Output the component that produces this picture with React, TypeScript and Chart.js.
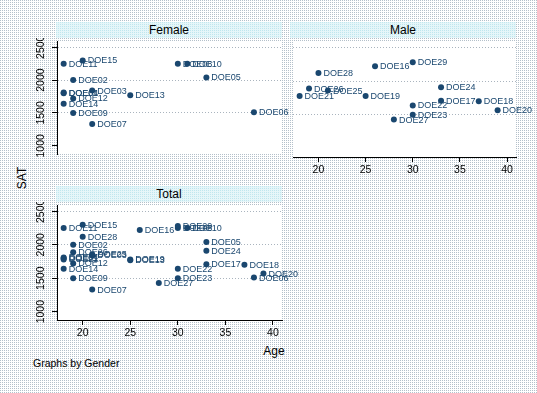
import React, { useEffect, useRef } from 'react';
import { Chart, registerables } from 'chart.js';

Chart.register(...registerables);

// ---- data ----
const femaleIds = ['DOE01', 'DOE02', 'DOE03', 'DOE04', 'DOE05', 'DOE06', 'DOE07', 'DOE08', 'DOE09', 'DOE10', 'DOE11', 'DOE12', 'DOE13', 'DOE14', 'DOE15'];
const femaleAge = [18, 19, 21, 18, 33, 38, 21, 30, 19, 31, 18, 19, 25, 18, 20];
const femaleSat = [1800, 2000, 1840, 1810, 2040, 1510, 1330, 2250, 1500, 2250, 2250, 1720, 1770, 1640, 2300];

const maleIds = ['DOE16', 'DOE17', 'DOE18', 'DOE19', 'DOE20', 'DOE21', 'DOE22', 'DOE23', 'DOE24', 'DOE25', 'DOE26', 'DOE27', 'DOE28', 'DOE29'];
const maleAge = [26, 33, 37, 25, 39, 18, 30, 30, 33, 21, 19, 28, 20, 30];
const maleSat = [2220, 1710, 1700, 1780, 1570, 1780, 1640, 1500, 1910, 1860, 1890, 1430, 2120, 2280];

const totalIds = [...femaleIds, ...maleIds];
const totalAge = [...femaleAge, ...maleAge];
const totalSat = [...femaleSat, ...maleSat];

const ageTicks = [20, 25, 30, 35, 40];
const satTicks = [1000, 1500, 2000, 2500];

const FONT = '"Liberation Sans", Arial, Helvetica, sans-serif';
const NAVY = '#1a476f';

const outerBg: React.CSSProperties = {
  backgroundColor: '#b4c0ca',
  backgroundImage:
    'linear-gradient(to bottom, transparent 1px, #ffffff 1px), linear-gradient(to right, transparent 1px, #ffffff 1px)',
  backgroundSize: '2px 2px',
};

const bandBg: React.CSSProperties = {
  backgroundColor: '#bfe6ee',
  backgroundImage:
    'linear-gradient(to bottom, transparent 1px, #e6f6f9 1px), linear-gradient(to right, transparent 1px, #e6f6f9 1px)',
  backgroundSize: '2px 2px',
};

type PanelProps = {
  ids: string[];
  ages: number[];
  sats: number[];
  showX: boolean;
  showY: boolean;
  left: number;
  top: number;
  width: number;
  height: number;
  padRight: number;
};

function Panel({ ids, ages, sats, showX, showY, left, top, width, height, padRight }: PanelProps) {
  const ref = useRef<HTMLCanvasElement>(null);
  useEffect(() => {
    const canvas = ref.current!;
    const points = ages.map((a, i) => ({ x: a, y: sats[i] }));

    const plotBg = {
      id: 'plotBg',
      beforeDraw(chart: any) {
        const { ctx, chartArea: a } = chart;
        ctx.save();
        ctx.fillStyle = '#ffffff';
        ctx.fillRect(a.left, a.top, a.right - a.left, a.bottom - a.top);
        ctx.restore();
      },
    };

    const yLabels = {
      id: 'yLabels',
      afterDraw(chart: any) {
        if (!showY) return;
        const { ctx } = chart;
        const ys = chart.scales.y;
        ctx.save();
        ctx.font = `10.5px ${FONT}`;
        ctx.fillStyle = '#000';
        ctx.textAlign = 'center';
        ctx.textBaseline = 'middle';
        satTicks.forEach((v) => {
          const y = ys.getPixelForValue(v);
          ctx.save();
          ctx.translate(chart.chartArea.left - 15.5, y);
          ctx.rotate(-Math.PI / 2);
          ctx.fillText(String(v), 0, 0);
          ctx.restore();
        });
        ctx.restore();
      },
    };

    const pointLabels = {
      id: 'pointLabels',
      afterDatasetsDraw(chart: any) {
        const { ctx } = chart;
        const meta = chart.getDatasetMeta(0);
        ctx.save();
        ctx.font = `9px ${FONT}`;
        ctx.fillStyle = NAVY;
        ctx.textAlign = 'left';
        ctx.textBaseline = 'middle';
        meta.data.forEach((el: any, i: number) => {
          ctx.fillText(ids[i], el.x + 5, el.y + 0.5);
        });
        ctx.restore();
      },
    };

    const chart = new Chart(canvas, {
      type: 'scatter',
      data: {
        datasets: [
          {
            data: points,
            pointRadius: 3,
            pointHoverRadius: 3,
            pointBackgroundColor: NAVY,
            pointBorderColor: NAVY,
            pointBorderWidth: 0,
          },
        ],
      },
      options: {
        animation: false,
        responsive: false,
        maintainAspectRatio: false,
        devicePixelRatio: 1,
        events: [],
        layout: { padding: { left: 0, top: 0, bottom: 0, right: padRight } },
        plugins: {
          legend: { display: false },
          tooltip: { enabled: false },
          title: { display: false },
        },
        scales: {
          x: {
            type: 'linear',
            display: showX,
            min: 17.3,
            max: 40.95,
            afterBuildTicks: (s: any) => {
              s.ticks = ageTicks.map((v) => ({ value: v }));
            },
            afterFit: (s: any) => {
              s.height = showX ? 18 : 0;
            },
            ticks: {
              color: '#000',
              font: { family: FONT, size: 10.5 },
              maxRotation: 0,
              minRotation: 0,
              autoSkip: false,
              padding: 2,
            },
            grid: {
              drawOnChartArea: false,
              drawTicks: true,
              tickLength: 5,
              tickColor: '#000',
              color: '#000',
            },
            border: { display: true, color: '#000', width: 1 },
          },
          y: {
            type: 'linear',
            display: true,
            min: 875,
            max: 2595,
            afterBuildTicks: (s: any) => {
              s.ticks = satTicks.map((v) => ({ value: v }));
            },
            afterFit: (s: any) => {
              s.width = showY ? 57 : 0;
            },
            ticks: { display: false },
            grid: {
              drawOnChartArea: true,
              drawTicks: showY,
              tickLength: 5,
              tickColor: '#000',
              lineWidth: 1,
              color: (c: any) => (c.tick && c.tick.value === 1000 ? 'rgba(0,0,0,0)' : '#aab4be'),
            },
            border: { display: showY, color: '#000', width: 1, dash: [1, 2] },
          },
        },
      } as any,
      plugins: [plotBg, yLabels, pointLabels],
    });
    return () => chart.destroy();
  }, []);
  return (
    <canvas
      ref={ref}
      width={width}
      height={height}
      style={{ position: 'absolute', left, top, width, height }}
    />
  );
}

function Band({ text, left, top }: { text: string; left: number; top: number }) {
  return (
    <div
      style={{
        position: 'absolute',
        left,
        top,
        width: 226,
        height: 16,
        lineHeight: '16px',
        textAlign: 'center',
        fontFamily: FONT,
        fontSize: 12,
        color: '#000',
        ...bandBg,
      }}
    >
      {text}
    </div>
  );
}

export default function App() {
  return (
    <div
      style={{
        position: 'fixed',
        left: 0,
        top: 0,
        width: 537,
        height: 393,
        overflow: 'hidden',
        ...outerBg,
      }}
    >
      <Band text="Female" left={56} top={22} />
      <Band text="Male" left={290} top={22} />
      <Band text="Total" left={56} top={186} />

      <Panel ids={femaleIds} ages={femaleAge} sats={femaleSat} showX={false} showY={true}
        left={0} top={38} width={292} height={119} padRight={10} />
      <Panel ids={maleIds} ages={maleAge} sats={maleSat} showX={true} showY={false}
        left={290} top={38} width={247} height={137} padRight={21} />
      <Panel ids={totalIds} ages={totalAge} sats={totalSat} showX={true} showY={true}
        left={0} top={202} width={302} height={136} padRight={20} />

      <div style={{ position: 'absolute', left: 10, top: 170, width: 24, height: 16, lineHeight: '16px',
        textAlign: 'center', fontFamily: FONT, fontSize: 12, transform: 'rotate(-90deg)' }}>SAT</div>
      <div style={{ position: 'absolute', left: 254, top: 343, width: 40, height: 16, lineHeight: '16px',
        textAlign: 'center', fontFamily: FONT, fontSize: 12 }}>Age</div>
      <div style={{ position: 'absolute', left: 33, top: 356, height: 14, lineHeight: '14px',
        whiteSpace: 'nowrap', fontFamily: FONT, fontSize: 10.5 }}>Graphs by Gender</div>
    </div>
  );
}
